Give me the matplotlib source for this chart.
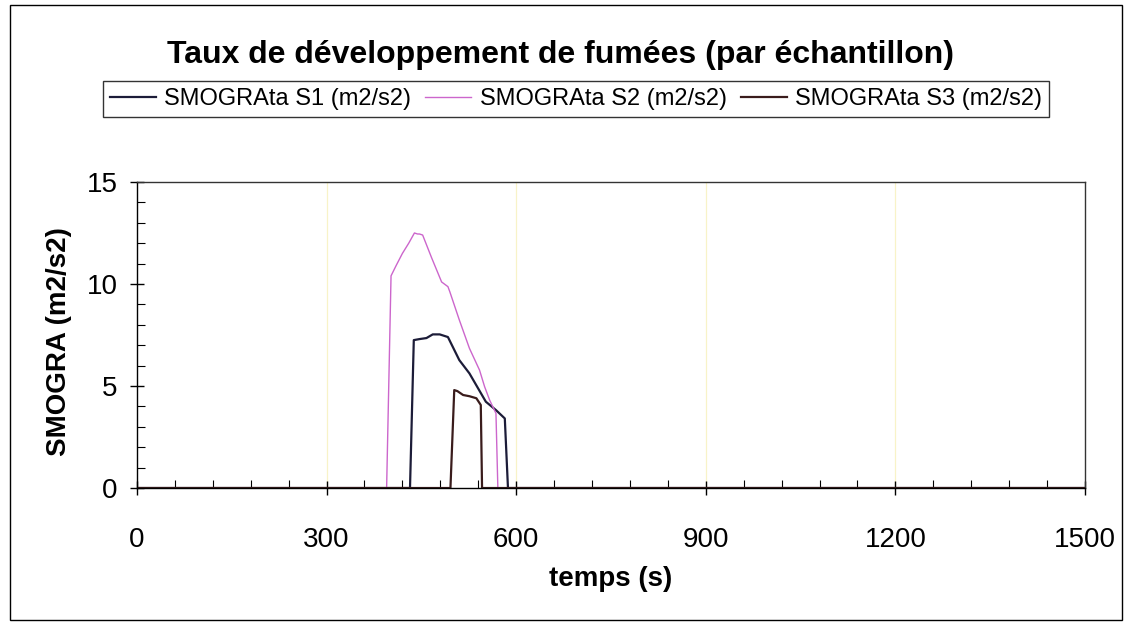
import matplotlib
matplotlib.use("Agg")
import matplotlib.pyplot as plt
from matplotlib.ticker import MultipleLocator
from matplotlib.patches import Rectangle

plt.rcParams['font.family'] = ['Liberation Sans', 'DejaVu Sans']

title = "Taux de développement de fumées (par échantillon)"
xlabel = "temps (s)"
ylabel = "SMOGRA (m2/s2)"
labels = ["SMOGRAta S1 (m2/s2)", "SMOGRAta S2 (m2/s2)", "SMOGRAta S3 (m2/s2)"]
colors = ["#1c1c38", "#cc66cc", "#3a1c1c"]

s1_x = [0, 432, 438, 447, 458, 468, 479, 492, 510, 526, 552, 568, 582, 587, 1500]
s1_y = [0, 0, 7.25, 7.3, 7.35, 7.53, 7.53, 7.4, 6.27, 5.62, 4.23, 3.82, 3.41, 0, 0]

s2_x = [0, 395, 402, 410, 420, 430, 439, 444, 447, 452, 466, 482, 492, 495, 510, 526, 542, 550, 558, 568, 571, 1500]
s2_y = [0, 0, 10.4, 10.9, 11.5, 12.0, 12.5, 12.45, 12.45, 12.4, 11.3, 10.1, 9.87, 9.62, 8.24, 6.85, 5.78, 4.97, 4.31, 3.66, 0, 0]

s3_x = [0, 496, 502, 507, 516, 526, 537, 544, 546, 1500]
s3_y = [0, 0, 4.8, 4.75, 4.56, 4.5, 4.4, 4.07, 0, 0]

xticks = [0, 300, 600, 900, 1200, 1500]
yticks = [0, 5, 10, 15]

fig = plt.figure(figsize=(11.3, 6.26), dpi=100)
ax = fig.add_axes([0.1212, 0.2204, 0.9602 - 0.1212, 0.7093 - 0.2204])

for xv in xticks[1:-1]:
    ax.axvline(xv, color="#f8f3c8", lw=0.9, zorder=0)

ax.plot(s1_x, s1_y, color=colors[0], lw=1.6, label=labels[0])
ax.plot(s2_x, s2_y, color=colors[1], lw=1.0, label=labels[1])
ax.plot(s3_x, s3_y, color=colors[2], lw=1.6, label=labels[2])

ax.set_xlim(0, 1500)
ax.set_ylim(0, 15)
ax.set_xticks(xticks)
ax.set_yticks(yticks)
ax.xaxis.set_minor_locator(MultipleLocator(60))
ax.yaxis.set_minor_locator(MultipleLocator(1))
ax.tick_params(axis='both', which='major', direction='inout', length=10, width=1, labelsize=20)
ax.tick_params(axis='both', which='minor', direction='in', length=6, width=0.8)
ax.tick_params(axis='x', which='major', pad=23)
ax.tick_params(axis='y', which='major', pad=9)
for sp in ax.spines.values():
    sp.set_linewidth(1.0)
    sp.set_color("#333333")
ax.spines['left'].set_color('black')
ax.spines['bottom'].set_color('black')

ax.set_xlabel(xlabel, fontsize=20, fontweight='bold')
ax.xaxis.set_label_coords(0.5, -0.255)
ax.set_ylabel(ylabel, fontsize=20, fontweight='bold')
ax.yaxis.set_label_coords(-0.0686, 0.48)

fig.text(0.496, 0.8994, title, ha='center', va='baseline', fontsize=23, fontweight='bold')

leg = fig.legend(loc='center', bbox_to_anchor=(0.5097, 0.842), ncol=3, fontsize=17,
                 frameon=True, fancybox=False, edgecolor='black', handlelength=1.95,
                 handletextpad=0.35, columnspacing=0.6, borderpad=0.3)
leg.get_frame().set_linewidth(1.0)

fig.patches.append(Rectangle((0.009, 0.01), 0.984, 0.982, transform=fig.transFigure,
                             fill=False, edgecolor='black', lw=1.0))

fig.savefig("out.png", dpi=100)
